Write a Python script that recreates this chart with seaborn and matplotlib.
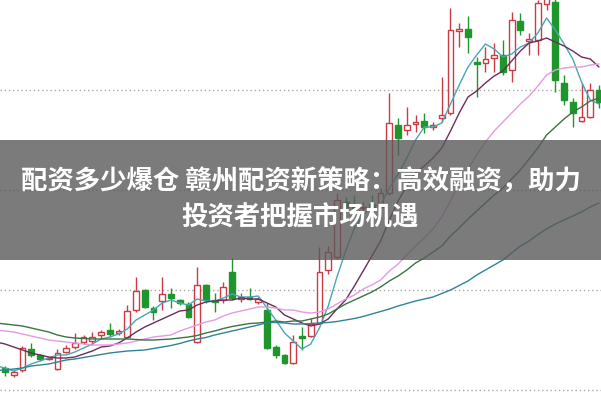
import numpy as np
import pandas as pd
import seaborn as sns
import matplotlib.pyplot as plt
from matplotlib.patches import Rectangle

# 日K线数据（开、收、高、低）
opens = [4.22, 4.15, 4.20, 4.41, 4.35, 4.31, 4.21, 4.38, 4.43, 4.48,
         4.49, 4.55, 4.60, 4.57, 4.53, 4.80, 5.00, 4.82, 4.89, 4.96,
         4.90, 4.86, 4.48, 5.05, 4.90, 4.90, 5.18, 4.91, 4.93, 4.88,
         4.80, 4.43, 4.35, 4.27, 4.54, 4.54, 4.67, 5.20, 5.33, 5.88,
         5.84, 5.82, 5.86, 5.83, 5.97, 6.65, 6.60, 6.66, 6.69, 6.63,
         6.72, 6.77, 7.59, 7.61, 7.28, 7.27, 7.32, 7.35, 7.20, 7.69,
         7.49, 7.50, 7.86, 7.88, 7.07, 6.88, 6.69, 6.73, 7.00]
closes = [4.18, 4.18, 4.42, 4.35, 4.31, 4.32, 4.37, 4.42, 4.47, 4.53,
          4.53, 4.58, 4.56, 4.59, 4.79, 4.99, 4.83, 4.78, 4.96, 4.92,
          4.87, 4.73, 5.05, 4.90, 4.88, 5.03, 4.92, 4.93, 4.91, 4.91,
          4.42, 4.35, 4.27, 4.48, 4.52, 4.66, 5.18, 5.38, 5.90, 5.83,
          5.82, 5.83, 5.80, 5.97, 6.67, 6.52, 6.65, 6.68, 6.63, 6.65,
          6.75, 7.60, 7.61, 7.53, 7.26, 7.31, 7.35, 7.18, 7.70, 7.60,
          7.51, 7.87, 7.92, 7.10, 6.90, 6.77, 6.73, 7.00, 6.88]
highs = [4.24, 4.20, 4.44, 4.47, 4.36, 4.33, 4.41, 4.45, 4.57, 4.55,
         4.58, 4.60, 4.67, 4.61, 4.85, 5.13, 5.01, 4.84, 5.13, 5.02,
         4.91, 4.88, 5.23, 5.06, 4.97, 5.08, 5.32, 4.97, 5.02, 4.93,
         4.87, 4.45, 4.36, 4.55, 4.63, 4.72, 5.43, 5.44, 5.97, 5.93,
         5.95, 5.88, 5.95, 6.02, 6.97, 6.72, 6.83, 6.75, 6.77, 6.68,
         7.13, 7.82, 7.67, 7.74, 7.33, 7.43, 7.47, 7.50, 7.78, 7.77,
         7.57, 7.90, 7.98, 7.95, 7.15, 6.92, 7.07, 7.07, 7.05]
lows = [4.14, 4.13, 4.18, 4.33, 4.29, 4.30, 4.20, 4.37, 4.41, 4.46,
        4.45, 4.52, 4.53, 4.55, 4.52, 4.78, 4.82, 4.70, 4.80, 4.82,
        4.85, 4.72, 4.47, 4.87, 4.78, 4.87, 4.90, 4.88, 4.90, 4.86,
        4.41, 4.32, 4.26, 4.26, 4.40, 4.53, 4.66, 5.16, 5.31, 5.77,
        5.77, 5.77, 5.75, 5.82, 5.95, 6.35, 6.55, 6.58, 6.57, 6.60,
        6.68, 6.75, 7.43, 7.37, 6.93, 7.18, 7.18, 7.15, 7.08, 7.55,
        7.35, 7.35, 7.80, 6.98, 6.85, 6.63, 6.68, 6.72, 6.82]

# 均线，从前一个交易日(-1)开始
ma_days = list(range(-1, 69))
ma5 = [4.24, 4.22, 4.19, 4.22, 4.26, 4.29, 4.32, 4.35, 4.35, 4.38,
       4.42, 4.46, 4.51, 4.53, 4.56, 4.61, 4.70, 4.75, 4.80, 4.87,
       4.90, 4.87, 4.85, 4.91, 4.89, 4.89, 4.92, 4.96, 4.93, 4.93,
       4.94, 4.82, 4.70, 4.57, 4.49, 4.41, 4.46, 4.62, 4.84, 5.13,
       5.39, 5.62, 5.75, 5.84, 5.85, 6.02, 6.16, 6.32, 6.50, 6.63,
       6.63, 6.67, 6.86, 7.05, 7.23, 7.35, 7.46, 7.41, 7.33, 7.36,
       7.43, 7.47, 7.57, 7.72, 7.60, 7.46, 7.31, 7.08, 6.90, 6.86]
ma10 = [4.48, 4.46, 4.43, 4.40, 4.37, 4.35, 4.33, 4.32, 4.32, 4.33,
        4.36, 4.39, 4.43, 4.44, 4.47, 4.52, 4.58, 4.63, 4.67, 4.71,
        4.75, 4.79, 4.80, 4.85, 4.88, 4.89, 4.90, 4.90, 4.92, 4.91,
        4.91, 4.87, 4.83, 4.75, 4.71, 4.67, 4.64, 4.66, 4.71, 4.81,
        4.90, 5.04, 5.19, 5.34, 5.49, 5.70, 5.89, 6.04, 6.17, 6.24,
        6.32, 6.42, 6.59, 6.77, 6.93, 6.99, 7.07, 7.14, 7.19, 7.29,
        7.39, 7.47, 7.49, 7.52, 7.48, 7.44, 7.39, 7.33, 7.31, 7.23]
ma20 = [4.60, 4.59, 4.58, 4.56, 4.54, 4.52, 4.50, 4.49, 4.48, 4.47,
        4.46, 4.45, 4.45, 4.45, 4.46, 4.47, 4.49, 4.51, 4.53, 4.54,
        4.55, 4.59, 4.62, 4.65, 4.68, 4.70, 4.74, 4.77, 4.79, 4.81,
        4.83, 4.83, 4.82, 4.80, 4.80, 4.78, 4.77, 4.78, 4.81, 4.86,
        4.91, 4.95, 5.01, 5.05, 5.10, 5.19, 5.26, 5.35, 5.44, 5.52,
        5.61, 5.73, 5.89, 6.06, 6.21, 6.35, 6.48, 6.59, 6.68, 6.77,
        6.86, 6.94, 7.04, 7.15, 7.20, 7.22, 7.23, 7.23, 7.25, 7.26]
ma30 = [4.67, 4.66, 4.65, 4.64, 4.62, 4.60, 4.58, 4.55, 4.53, 4.52,
        4.515, 4.51, 4.51, 4.51, 4.51, 4.51, 4.505, 4.50, 4.50, 4.505,
        4.51, 4.52, 4.53, 4.545, 4.57, 4.59, 4.615, 4.635, 4.65, 4.665,
        4.67, 4.68, 4.69, 4.68, 4.69, 4.69, 4.71, 4.73, 4.76, 4.81,
        4.86, 4.90, 4.94, 4.98, 5.03, 5.09, 5.14, 5.20, 5.27, 5.32,
        5.38, 5.44, 5.54, 5.62, 5.71, 5.79, 5.87, 5.95, 6.02, 6.11,
        6.20, 6.31, 6.42, 6.55, 6.63, 6.71, 6.78, 6.83, 6.89, 6.92]
ma60 = [4.195, 4.20, 4.21, 4.22, 4.24, 4.25, 4.26, 4.28, 4.30, 4.31,
        4.325, 4.34, 4.355, 4.37, 4.38, 4.39, 4.395, 4.40, 4.415, 4.43,
        4.445, 4.465, 4.49, 4.51, 4.525, 4.55, 4.57, 4.59, 4.61, 4.63,
        4.65, 4.675, 4.675, 4.67, 4.66, 4.66, 4.665, 4.67, 4.675, 4.685,
        4.70, 4.715, 4.735, 4.76, 4.785, 4.81, 4.84, 4.865, 4.89, 4.91,
        4.93, 4.965, 5.00, 5.045, 5.09, 5.15, 5.20, 5.25, 5.30, 5.37,
        5.44, 5.49, 5.555, 5.61, 5.66, 5.70, 5.74, 5.78, 5.83, 5.87]

grid_levels = [4.0, 5.0, 6.0, 7.0]
title_lines = ['配资多少爆仓 赣州配资新策略：高效融资，助力', '投资者把握市场机遇']

RED = '#cc3a44'
GREEN = '#1f962c'
ma_colors = {'MA5': '#4aa6b4', 'MA10': '#6c2d5c', 'MA20': '#e49ae4',
             'MA30': '#3b7440', 'MA60': '#2f8494'}

sns.set_style('white')
plt.rcParams['font.family'] = ['Noto Sans CJK SC', 'DejaVu Sans']

fig = plt.figure(figsize=(6.01, 4.01), dpi=100)
ax = fig.add_axes([0, 0, 1, 1])

days = np.arange(len(opens))
o = np.array(opens)
c = np.array(closes)
h = np.array(highs)
l = np.array(lows)
up = c >= o
dn = ~up

# 影线
ax.vlines(days[up], l[up], h[up], color=RED, lw=1, zorder=1)
ax.vlines(days[dn], l[dn], h[dn], color=GREEN, lw=1, zorder=1)
# 实体：阳线空心，阴线实心
ax.bar(days[up], np.maximum(c[up] - o[up], 0.01), bottom=o[up], width=0.66,
       facecolor='white', edgecolor=RED, lw=1, zorder=2)
ax.bar(days[dn], np.minimum(c[dn] - o[dn], -0.01), bottom=o[dn], width=0.66,
       facecolor=GREEN, edgecolor=GREEN, lw=1, zorder=2)

# 均线
ma_df = pd.DataFrame({'day': ma_days, 'MA5': ma5, 'MA10': ma10, 'MA20': ma20,
                      'MA30': ma30, 'MA60': ma60})
ma_long = ma_df.melt(id_vars='day', var_name='line', value_name='price')
sns.lineplot(data=ma_long, x='day', y='price', hue='line', palette=ma_colors,
             lw=1, legend=False, ax=ax, zorder=3)

ax.set_xlim(-0.572, 68.23)
ax.set_ylim(3.89, 7.90)
ax.set_yticks(grid_levels)
ax.set_xticks([])
ax.yaxis.grid(True, color='#a8a8a8', linestyle=(0, (1, 2)), lw=1)
ax.xaxis.grid(False)
ax.tick_params(left=False, labelleft=False, bottom=False, labelbottom=False)
ax.set_xlabel('')
ax.set_ylabel('')
for s in ax.spines.values():
    s.set_visible(False)

# 灰色标题横幅
fig.patches.append(Rectangle((0, 0.3516), 1, 0.2993, transform=fig.transFigure,
                             facecolor='#5a5a5a', alpha=0.8, edgecolor='none', zorder=5))
fig.text(0.5, 0.546, title_lines[0], color='white', fontsize=19, fontweight='bold',
         ha='center', va='center', zorder=6)
fig.text(0.5, 0.456, title_lines[1], color='white', fontsize=19, fontweight='bold',
         ha='center', va='center', zorder=6)

fig.savefig('out.png', dpi=100)
